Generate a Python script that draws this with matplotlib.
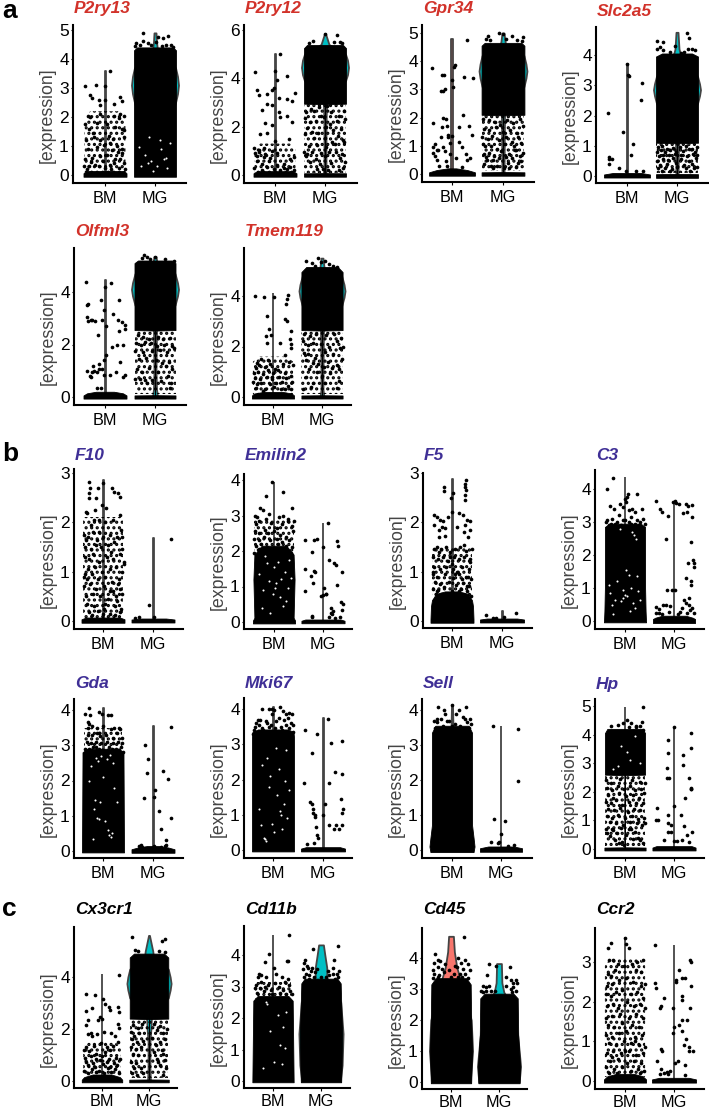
"""Violin + jitter panels, BM vs MG expression for marker genes.

Values are read off the reference by eye. Where the jitter saturates to solid
black the cloud is kept as a width profile (*_MY, *_MW); where it is merely busy
it gets a dotted band (*_HY, *_HW) under the single points.
x offsets and widths are in percent of the BM-MG spacing.
"""
import matplotlib
matplotlib.use("Agg")
import matplotlib.pyplot as plt

plt.rcParams["font.family"] = ["Liberation Sans", "DejaVu Sans"]
plt.rcParams["hatch.linewidth"] = 1.5

RED = "#d2322a"
BLUE = "#3f2f96"
BLACK = "#000000"
BM_FILL = "#f8766d"
MG_FILL = "#00bfc4"
GROUPS = ["BM", "MG"]

# --- P2ry13
P2RY13_BM_VY = [0, 3.6]
P2RY13_BM_VW = [1, 1]
P2RY13_BM_MY = [-.06, .06, .14]
P2RY13_BM_MW = [43, 43, 38]
P2RY13_BM_HY = [.1, 1.7, 2.2]
P2RY13_BM_HW = [41, 41, 30]
P2RY13_BM_X = [-40, -19, -1, 9, -30, -27, -13, 0, 30, 33, 17, -10, -35, -30, -10, 17, 29, 37, 27, -40, -33, -17, 3, 20, 33, 38, -38, -23, -10, 10, 23, 37, -35, -17, -3, 13, 33, -40, -27, -10, 3, 20, 38, -33, -13, 10, 27, -37, -20, 0, 17, 30, -25, 7, 25, 40, -5, 15, -28, -42, 34, 12]
P2RY13_BM_Y = [3.07, 3.1, 3.07, 3.57, 2.75, 2.65, 2.6, 2.6, 2.7, 2.55, 2.45, 2.4, 2.05, 2, 2.1, 2.05, 2.1, 2.05, 1.95, 1.75, 1.6, 1.8, 1.75, 1.65, 1.6, 1.55, 1.2, 1.3, 1.2, 1.1, 1, 1.3, .9, .95, 1.05, .85, .9, .55, .6, .65, .7, .55, .4, .3, .3, .35, .25, .2, .35, .25, .4, .55, 1.45, 1.35, .8, .2, .5, 1.25, .45, .3, .75, .2]
P2RY13_MG_VY = [0, 2.5, 2.8, 3.1, 3.4, 3.7, 4.3, 4.6, 4.9]
P2RY13_MG_VW = [2, 41, 45, 47, 45, 41, 5, 3, 2]
P2RY13_MG_MY = [-.06, .06, 4.3, 4.4]
P2RY13_MG_MW = [42, 42, 42, 36]
P2RY13_MG_X = [-24, 26, 6, 15, -24, -38, -14, 36, 2, -40, -30, 22, 32, 14, -8]
P2RY13_MG_Y = [4.9, 4.8, 4.75, 4.72, 4.62, 4.55, 4.55, 4.4, 4.6, 4.45, 4.5, 4.5, 4.5, 4.45, 4.5]
P2RY13_MG_GX = [-15, -8, -20, 12, -28, 22, 4, 30, -12, 10, 24, -32, -4, 18]
P2RY13_MG_GY = [.4, .5, .7, .9, .3, .6, .3, 1.1, 1.3, 1.2, .25, .95, .15, .55]

# --- P2ry12
P2RY12_BM_VY = [0, 5.02]
P2RY12_BM_VW = [1, 1]
P2RY12_BM_MY = [-.07, .07, .16]
P2RY12_BM_MW = [43, 43, 36]
P2RY12_BM_HY = [.1, 1.1, 1.3]
P2RY12_BM_HW = [41, 41, 30]
P2RY12_BM_X = [-40, -37, -33, -17, -7, -3, 0, 3, 23, 40, 7, 23, 33, -17, -7, -27, 23, 7, -20, -7, 10, 33, -30, -17, 27, 0, -43, -33, -23, -7, 3, 37, -37, -23, -10, -37, -27, 3, 17, 30, -17, -43, -3, 23, 37, -27, 10, 10, -33, 17, -13, 30, -40, -20]
P2RY12_BM_Y = [4.25, 3.5, 3.3, 3.35, 3.5, 3.6, 4.3, 3.95, 4.1, 3.4, 3.2, 3.15, 3.05, 2.95, 2.9, 2.7, 2.45, 2.6, 2.15, 2.05, 2.4, 2.2, 1.7, 1.75, 1.5, 1.4, 1.1, .95, 1.1, 1, .9, .75, .8, .75, .7, .6, .45, .4, .45, .65, .35, .3, .25, .25, .2, .2, .2, 5, 1.05, .3, .6, .35, .9, .85]
P2RY12_MG_VY = [0, 1, 2, 2.95, 3.9, 4.15, 4.45, 4.75, 5, 5.4, 5.85]
P2RY12_MG_VW = [2, 2, 2, 3, 41, 45, 47, 45, 41, 8, 1]
P2RY12_MG_MY = [-.07, .07, .08, 2.93, 2.95, 5.25, 5.38]
P2RY12_MG_MW = [42, 42, 0, 0, 42, 42, 36]
P2RY12_MG_HY = [.1, 2.95]
P2RY12_MG_HW = [42, 42]
P2RY12_MG_X = [0, 24, -24, 30, 18, 34, -32, -28, -12, 4, -38, -22, -8, 12, 28, 38, -40, -30, -18, -2, 10, 24, 40, -36, -26, -14, 2, 16, 32, -40, -22, 0, 14, 26, 36, -32, -16, 2, 20, 38, -26, -8, 8, 34, -38, -18, 22, 30, 0, -30, 12, -10, 40, -4, 36, -36, 6, 28, -42, -16]
P2RY12_MG_Y = [5.85, 5.8, 5.55, 5.5, 5.5, 5.45, 5.45, 2.75, 2.8, 2.85, 2.6, 2.65, 2.45, 2.6, 2.45, 2.65, 2.35, 2.2, 2.25, 2.4, 2.1, 2.25, 2.3, 1.95, 1.8, 1.75, 2, 1.85, 1.9, 1.7, 1.55, 1.55, 1.35, 1.6, 1.45, 1.2, 1.25, 1.15, 1.3, 1.35, .95, .9, .95, .85, .8, .65, .95, .7, .8, .55, .5, .45, .55, .25, .3, .85, .2, .2, .95, .25]

# --- Gpr34
GPR34_BM_VY = [0, 4.8]
GPR34_BM_VW = [1, 1]
GPR34_BM_MY = [-.06, .06, .14, .2]
GPR34_BM_MW = [45, 45, 30, 8]
GPR34_BM_X = [29, -39, -20, -15, 5, 3, 23, 41, 1, -21, -17, -14, 0, -17, -11, 21, -9, -7, 13, 33, -37, -33, -21, -7, 0, 20, -29, -13, -3, 40, -37, -33, -27, -20, -3, 27, -37, -25, -9, 20, 30, -11, -17, 8, 13, -30, 36]
GPR34_BM_Y = [4.75, 3.75, 3.5, 3.5, 3.85, 3.8, 3.45, 3.4, 3.1, 2.95, 2.95, 3, 3.35, 2, 1.95, 2.1, 1.7, 1.3, 1.65, 1.7, 1.8, 1.05, 1.3, 1.4, 1.35, .95, .85, .8, .7, 1.4, .95, .65, .85, 1.65, 1.1, .7, .75, .3, .3, .25, .5, .45, .95, .55, 1.15, .5, .55]
GPR34_MG_VY = [0, 2.1, 3.1, 3.4, 3.65, 3.9, 4.2, 4.55, 4.7, 5]
GPR34_MG_VW = [2, 3, 41, 45, 47, 45, 41, 6, 4, 2]
GPR34_MG_MY = [-.06, .06, .07, 2.08, 2.1, 4.55, 4.65]
GPR34_MG_MW = [42, 42, 0, 0, 42, 42, 36]
GPR34_MG_HY = [.1, 2.1]
GPR34_MG_HW = [42, 42]
GPR34_MG_X = [-30, -7, 0, 17, -26, 40, -34, 28, 5, 38, -40, -27, -16, -6, 8, 20, 33, -38, -28, -14, 0, 14, 27, 40, -42, -30, -21, -8, 6, 18, 30, -36, -24, -11, 4, 22, 36, -38, -27, -17, -3, 12, 26, 34, -32, -20, -8, 18, 30, 40, -37, -24, 10, 26, -12, 36, 2, -34, 12, 24, -20, 6, -40]
GPR34_MG_Y = [4.9, 5, 4.95, 4.9, 4.75, 4.85, 4.8, 4.75, 4.8, 4.7, 1.95, 1.9, 1.85, 1.75, 1.9, 1.8, 1.95, 1.6, 1.55, 1.65, 1.5, 1.55, 1.45, 1.7, 1.3, 1.25, 1.35, 1.2, 1.3, 1.15, 1.3, 1, 1, .9, 1.05, 1, 1.1, .7, .75, .65, .8, .7, .85, .65, .5, .5, .55, .55, .4, .75, .35, .3, .4, .25, .3, .45, .2, .6, .2, .85, .2, .6, 1.05]

# --- Slc2a5
SLC2A5_BM_VY = [0, 3.7]
SLC2A5_BM_VW = [1, 1]
SLC2A5_BM_MY = [-.05, .05, .1]
SLC2A5_BM_MW = [46, 46, 28]
SLC2A5_BM_X = [-1, 1, 3, 29, 28, -39, -37, -36, -31, -37, -8, 11, 7, -17, 17, 32, -2]
SLC2A5_BM_Y = [3.7, 3.35, 3.3, 3.08, 2.5, 2.07, .63, .55, .55, .4, 1.45, 1.05, .7, .25, .15, .15, .18]
SLC2A5_MG_VY = [0, 1.1, 2.4, 2.65, 2.85, 3.05, 3.3, 3.95, 4.2, 4.75]
SLC2A5_MG_VW = [2, 3, 41, 45, 47, 45, 41, 8, 4, 2]
SLC2A5_MG_MY = [-.06, .06, .07, 1.08, 1.1, 3.95, 4.05]
SLC2A5_MG_MW = [42, 42, 0, 0, 42, 42, 30]
SLC2A5_MG_HY = [.1, 1.1]
SLC2A5_MG_HW = [42, 42]
SLC2A5_MG_X = [-40, -28, -34, -40, 20, 24, -4, 22, 30, 36, -28, -14, 14, 8, -38, -30, -20, -8, 6, 18, 30, 40, -40, -32, -24, -14, -2, 12, 24, 36, -36, -28, -16, -4, 8, 20, 32, 40, -40, -28, -18, -8, 8, 24, 38, -34, -20, -2, 14, 30, -38, -24, -10, 18, 34, 0, -30, 40, 26, -14]
SLC2A5_MG_Y = [4.45, 4.43, 4.25, 4.2, 4.72, 4.55, 4.3, 4.2, 4.2, 4.15, 4.15, 4.1, 4.1, 4.05, .95, .98, .9, .92, .95, .98, .9, .95, .8, .85, .8, .85, .78, .82, .88, .8, .65, .7, .68, .72, .7, .66, .72, .7, .5, .55, .52, .58, .55, .5, .58, .38, .4, .42, .38, .4, .25, .28, .22, .26, .25, .3, .15, .3, .15, .18]

# --- Olfml3
OLFML3_BM_VY = [0, 4.45]
OLFML3_BM_VW = [1, 1]
OLFML3_BM_MY = [-.06, .06, .14, .2]
OLFML3_BM_MW = [43, 43, 36, 18]
OLFML3_BM_X = [-39, -37, -9, -1, 12, 27, -35, -3, -7, -29, -37, -35, -27, -21, 1, 15, 25, 33, 39, 39, -15, 27, 13, 23, 35, -13, -25, -3, 1, 29, -23, -31, -37, -17, -13, -7, 9, 21, 35, -29, -3, -27, -9, 39, -17]
OLFML3_BM_Y = [4.4, 3.5, 3.7, 4.2, 4.35, 3.7, 3.55, 3.3, 2.95, 2.95, 3.05, 2.9, 2.95, 2.9, 2.7, 3.15, 2.95, 2.85, 2.75, 2.6, 2.35, 2.5, 1.9, 2, 2, 1.25, 1.2, 1.4, 1.6, 1.35, 1, .8, 1, .95, 1.05, 1.05, .85, .95, .75, .75, .85, .95, .35, .85, .35]
OLFML3_MG_VY = [0, .3, 1, 2.55, 3.5, 3.85, 4.1, 4.35, 4.7, 5.1, 5.35]
OLFML3_MG_VW = [5, 3, 2, 3, 40, 45, 47, 45, 40, 4, 2]
OLFML3_MG_MY = [-.06, .06, .07, 2.53, 2.55, 5.1, 5.2]
OLFML3_MG_MW = [41, 41, 0, 0, 41, 41, 34]
OLFML3_MG_HY = [.1, 2.55]
OLFML3_MG_HW = [41, 41]
OLFML3_MG_X = [-22, -17, -26, 0, 20, -10, 38, -34, -24, -12, 6, 16, 30, -38, -28, -20, -8, 4, 18, 34, -40, -24, -6, 10, 24, 38, -32, -18, 2, 14, 28, -36, -26, -12, 22, 34, -40, -30, -20, 6, 32, 12, -16, 30, -6, 26]
OLFML3_MG_Y = [5.4, 5.35, 5.3, 5.35, 5.25, 5.25, 5.2, 2.35, 2.3, 2.2, 2.3, 2.2, 2.25, 2.05, 2, 2.1, 2.05, 1.95, 2, 1.95, 1.75, 1.7, 1.75, 1.8, 1.7, 1.85, 1.45, 1.5, 1.4, 1.3, 1.35, 1.05, .95, 1.1, 1.2, 1.05, .7, .7, .65, .95, .55, .6, .55, .35, .65, .8]

# --- Tmem119
TMEM119_BM_VY = [0, 4.1]
TMEM119_BM_VW = [1, 1]
TMEM119_BM_MY = [-.06, .06, .14, .2]
TMEM119_BM_MW = [43, 43, 38, 20]
TMEM119_BM_HY = [.1, 1.4, 1.6]
TMEM119_BM_HW = [41, 41, 28]
TMEM119_BM_X = [-37, -19, 3, 27, 31, 29, -13, 25, 29, 37, -9, 35, -5, -15, 15, 37, 37, 25, -13, -33, -24, -11, -35, -28, -17, -7, 4, 20, 33, 40, -39, -30, -21, -10, 0, 11, 24, 36, -37, -27, -13, -3, 12, 26, 38, -33, -24, -7, 6, 18, 30, -35, -16, 2, 24, -2, 37, -40, 16, -21]
TMEM119_BM_Y = [4, 3.95, 3.95, 3.7, 4.05, 3.9, 3.2, 3.1, 3, 2.6, 2.7, 2.3, 2.45, 2.4, 2.15, 2.1, 1.95, 1.65, 2.15, 1.35, 1.5, 1.45, 1.15, 1.25, 1.2, 1.3, 1.1, 1.3, 1.4, 1.25, .95, 1, .9, 1.05, .95, 1.05, .95, .85, .75, .7, .8, .7, .8, .75, .6, .5, .55, .5, .55, .6, .45, .35, .3, .4, .3, .8, .3, .6, .3, .25]
TMEM119_MG_VY = [0, .3, 1, 2.65, 3.6, 3.95, 4.2, 4.45, 4.8, 5, 5.5]
TMEM119_MG_VW = [4, 2, 2, 3, 40, 45, 47, 45, 40, 5, 2]
TMEM119_MG_MY = [-.06, .06, .07, 2.63, 2.65, 4.95, 5.15]
TMEM119_MG_MW = [42, 42, 0, 0, 42, 42, 32]
TMEM119_MG_HY = [.1, 2.65]
TMEM119_MG_HW = [42, 42]
TMEM119_MG_X = [-32, -8, -2, 6, -20, 14, 22, -14, 30, -36, -24, -12, 8, 24, 38, -38, -28, -18, -2, 14, 30, 42, -36, -28, -14, 6, 22, 36, -32, -18, -8, 12, 30, 40, -26, -10, 4, 20, 34, -32, 0, 16, -18, 34, -22, 6, 30, -38]
TMEM119_MG_Y = [5.4, 5.5, 5.35, 5.4, 5.3, 5.25, 5.2, 5.2, 5.15, 2.5, 2.4, 2.5, 2.45, 2.5, 2.35, 2.2, 2.05, 2.15, 2.1, 2, 2.2, 2, 1.75, 1.7, 1.55, 1.8, 1.7, 1.95, 1.45, 1.35, 1.3, 1.4, 1.25, 1.5, 1.1, 1, 1.2, 1.15, 1.1, .8, .85, .95, .55, .65, .4, .55, .35, .3]

# --- F10
F10_BM_VY = [0, 2.85]
F10_BM_VW = [1, 1]
F10_BM_MY = [-.035, .035, .07]
F10_BM_MW = [43, 43, 34]
F10_BM_HY = [.05, 2.1]
F10_BM_HW = [40, 40]
F10_BM_X = [-28, -1, -27, -11, -29, 17, 21, 29, 33, -29, -15, -3, -35, -33, -19, -9, 3, 19, 33, -39, -31, -21, -13, 0, 13, 27, 35, -37, -25, -15, -5, 9, 21, 37, -37, -29, -21, -9, 7, 19, 33, 41, -31, -17, -3, 13, 25, 37, -39, -33, -23, -11, 3, 17, 31, -39, -27, -15, 1, 13, 29, -35, -21, -7, 9, 25, 37, -33, -19, 3, 23, 35, -29, -11, 13, 33, -23, 1, 23, -35, 37, -17, 5, 41, -25, 15, 33, -9, 27, -37, -1, 19]
F10_BM_Y = [2.82, 2.8, 2.7, 2.7, 2.6, 2.7, 2.62, 2.6, 2.52, 2.5, 2.5, 2.35, 2.2, 2.18, 2.05, 2.05, 2, 2.05, 2.15, 1.75, 1.7, 1.8, 1.65, 1.7, 1.75, 1.7, 1.85, 1.5, 1.45, 1.55, 1.5, 1.55, 1.6, 1.45, 1.3, 1.25, 1.35, 1.2, 1.3, 1.25, 1.35, 1.2, 1.05, 1.1, 1, 1.05, 1.1, 1, .9, .85, .95, .85, .9, .8, .85, .7, .75, .65, .7, .6, .75, .5, .55, .5, .45, .5, .55, .35, .3, .35, .3, .25, .18, .2, .15, .18, .12, .25, .12, 1.65, 1.7, 2.25, 2.3, 1.15, 1.95, 1.4, .65, 1.8, .4, .95, .15, .6]
F10_MG_VY = [0, 1.68]
F10_MG_VW = [1, 1]
F10_MG_MY = [-.03, .03, .05]
F10_MG_MW = [43, 43, 26]
F10_MG_X = [36, -9, -36, -28, 2]
F10_MG_Y = [1.67, .32, .07, .08, .08]

# --- Emilin2
EMILIN2_BM_VY = [0, 3.95]
EMILIN2_BM_VW = [1, 1]
EMILIN2_BM_MY = [-.04, .04, .12, 1.2, 1.9, 2.15]
EMILIN2_BM_MW = [43, 43, 40, 42, 40, 25]
EMILIN2_BM_HY = [1.9, 2.9]
EMILIN2_BM_HW = [40, 40]
EMILIN2_BM_X = [-5, 19, -16, -38, -35, -28, -22, -10, 10, 19, 28, 37, 40, -36, -30, -17, -6, 6, 17, 28, 37, -38, -30, -19, -12, 1, 13, 25, 38, -40, -31, -21, -8, 7, 16, 30, -36, -26, -14, 9, 24, 36, -40, -30, 3, 15, 34, -22]
EMILIN2_BM_Y = [3.95, 3.65, 3.55, 3, 2.95, 3.2, 3.15, 3.05, 2.95, 3, 2.9, 3.2, 2.85, 2.75, 2.85, 2.9, 2.8, 2.65, 2.75, 2.85, 2.7, 2.55, 2.5, 2.6, 2.5, 2.55, 2.45, 2.4, 2.55, 2.35, 2.3, 2.4, 2.3, 2.35, 2.25, 2.3, 2.15, 2.2, 2.1, 2.2, 2.15, 2.1, 1.95, 2.05, 2, 2.05, 1.95, 2]
EMILIN2_BM_GX = [-10, 5, 15, -22, 28, -3, 12, -30, 22, 0, -15, 8, 30, -25, 18, -8, 25, -18, 2, 35]
EMILIN2_BM_GY = [1.15, 1.1, 1.2, .9, .95, .8, .7, 1.35, 1.4, 1.55, 1.65, 1.7, 1.75, .4, .45, .25, .6, 1.85, .95, 1.25]
EMILIN2_MG_VY = [0, 2.8]
EMILIN2_MG_VW = [1, 1]
EMILIN2_MG_MY = [-.035, .035, .07]
EMILIN2_MG_MW = [44, 44, 36]
EMILIN2_MG_X = [11, -37, -19, -12, -23, 28, -25, -18, 1, 7, 31, 13, -37, -16, -20, -4, -1, 7, -22, 28, 17, -36, 20, 16, 40, 38, 37, 27, 23, 38, 3, -22, 19, 25, 12, 35]
EMILIN2_MG_Y = [2.78, 2.3, 2.3, 2.33, 1.97, 2.28, 1.3, 1.45, 2.1, .8, 2.15, 1.75, 1.5, 1.4, 1.1, .72, .75, .8, .15, 1.05, .4, .87, .3, .25, .5, .35, .55, 1.6, 1.65, 1.4, .95, .18, .22, .12, .15, .15]

# --- F5
F5_BM_VY = [0, 2.88]
F5_BM_VW = [1, 1]
F5_BM_MY = [-.035, .035, .3, .42, .55, .6]
F5_BM_MW = [43, 43, 42, 40, 32, 14]
F5_BM_HY = [.5, 1.5]
F5_BM_HW = [40, 40]
F5_BM_X = [28, 26, 25, 27, 26, -17, -17, 2, -3, 26, -37, -30, -24, -18, -9, -1, 13, 21, 30, 36, -36, -26, -21, -15, 9, 25, 36, -26, -14, 24, 32, -36, -30, -22, -12, -4, 6, 16, 28, 40, -38, -28, -18, -8, 4, 14, 24, 36, -36, -24, -12, 0, 10, 20, 34, -38, -30, -14, 2, 14, 28, 38, -34, -24, -6, 8, 22, 34, -38, -28, -16, 0, 18, 30, -32, -22, -6, 12, 26, 38, -36, -10, 8, 20, 30, -26, 2, 36, -18, 24, -38, 14, -4, 32, -30, 6]
F5_BM_Y = [2.85, 2.78, 2.72, 2.66, 2.45, 2.72, 2.64, 2.6, 2.5, 2.55, 2.15, 2.1, 2.05, 2.02, 2.1, 2.2, 2.18, 2.15, 2.05, 2.02, 1.95, 1.85, 1.9, 1.88, 1.9, 1.95, 1.85, 1.7, 1.72, 1.8, 1.7, 1.45, 1.5, 1.45, 1.5, 1.4, 1.45, 1.5, 1.42, 1.45, 1.3, 1.25, 1.3, 1.22, 1.3, 1.25, 1.3, 1.2, 1.1, 1.05, 1.1, 1.15, 1, 1.1, 1.05, .95, .9, .95, .88, .95, .9, .85, .8, .75, .8, .72, .78, .7, .65, .62, .68, .6, .65, .6, .55, .5, .55, .48, .52, .5, .42, .4, .42, .85, .7, 1.4, 1.05, 1.25, .35, 1.55, 1, .6, 1.3, .9, .6, .95]
F5_MG_VY = [0, .2]
F5_MG_VW = [1, 1]
F5_MG_MY = [-.03, .03, .05]
F5_MG_MW = [44, 44, 30]
F5_MG_X = [-32, 27, -12, -18, 4]
F5_MG_Y = [.12, .17, .07, .06, .09]

# --- C3
C3_BM_VY = [0, 4.35]
C3_BM_VW = [1, 1]
C3_BM_MY = [-.04, .3, 1.0, 1.3, 2.85, 2.95]
C3_BM_MW = [43, 42, 41, 41, 41, 32]
C3_BM_X = [-25, -37, 7, 5, 25, -1, 2, -5, -30, -22, -11, 8, 14, 20, 35, -36, -26, -13, 1, 12, 25, 36, -38, -29, -16, -4, 8, 20, 30, 40, -32, -20, -8, 12, 28]
C3_BM_Y = [4.32, 4, 3.85, 3.75, 3.85, 3.7, 3.6, 3.45, 3.5, 3.4, 3.55, 3.35, 3.4, 3.3, 3.4, 3.05, 3.1, 3.2, 3.05, 3.15, 3.05, 3.1, 3.0, 2.95, 3.0, 3.05, 3, 2.95, 3, 2.95, 2.9, 2.95, 2.9, 2.95, 2.9]
C3_BM_GX = [-4, 0, 4, -8, 16, 20, -24, 12, -16, 24, -30, 8, 30, -20, 2, 14, 18, -10, -32, 26, 10, -5, 22, -26]
C3_BM_GY = [.7, .8, .75, .6, .55, .4, .2, 1, 1.2, 1.35, .85, 1.4, .65, .65, 1.55, 2.7, 2.6, 2.8, 1.1, .9, .3, .95, 2.5, .5]
C3_MG_VY = [0, 3.65]
C3_MG_VW = [1, 1]
C3_MG_MY = [-.06, .06, .1, .16]
C3_MG_MW = [43, 43, 38, 24]
C3_MG_X = [-37, -28, -24, 3, -2, 5, 10, 25, 36, 29, 26, 18, 36, -12, -16, 35, 40, 38, 40, 29, 25, 34, -4, -15, 3, 35, 21, 30, -36, -30, -23, -17, -9, -30, -36, -10, 16, 30, 24, 36, 13, 32, 8, -24, 26, 40]
C3_MG_Y = [3.63, 3.4, 3.3, 3.63, 3.6, 3.58, 3.55, 3.55, 3.53, 3.5, 3.3, 3.28, 3.15, 3.18, 2.47, 2.38, 1.75, 1.85, 1.65, 1.75, 1.3, 1.2, .95, .95, .93, 1.1, .65, .7, .42, .35, .5, .48, .45, .25, .25, .28, .38, .5, .55, .4, .28, .32, .2, .22, .25, .25]

# --- Gda
GDA_BM_VY = [0, 4.05]
GDA_BM_VW = [1, 1]
GDA_BM_MY = [-.04, 2.6, 2.8, 2.9]
GDA_BM_MW = [42, 41, 41, 32]
GDA_BM_HY = [2.85, 3.5]
GDA_BM_HW = [38, 38]
GDA_BM_X = [-28, -37, -27, -30, -9, -3, 9, 15, -29, -30, -23, -12, -8, 0, 15, 21, 31, 34, -30, -22, -13, -6, 6, 19, 27, 37, -33, -24, -15, -5, 8, 20, 30, 38, -36, -20, -8, 12, 25, 35, -32, -28, -14, 3, 18, 40]
GDA_BM_Y = [4.05, 3.9, 3.85, 3.65, 3.95, 3.9, 3.85, 3.85, 3.6, 3.5, 3.55, 3.5, 3.35, 3.55, 3.45, 3.5, 3.5, 3.45, 3.3, 3.3, 3.35, 3.25, 3.3, 3.2, 3.35, 3.2, 3.1, 3.05, 3.1, 3.05, 3.1, 3.05, 3.1, 3.05, 2.9, 2.95, 2.9, 2.95, 2.9, 2.95, 2.85, 2.9, 2.95, 2.85, 2.9, 2.8]
GDA_BM_GX = [-14, -10, -5, 8, 14, 20, -24, -16, -7, -12, -8, 12, 15, 18, -20, 4, 27, -28, 0, 22, -18, 10]
GDA_BM_GY = [2.65, 2.55, 2.7, 2.6, 2.72, 2.5, 2.4, 1.45, 1.4, .95, .9, .45, .4, .5, .35, .85, 1.4, 2, 2.1, 1.8, 1.2, .6]
GDA_MG_VY = [0, 3.55]
GDA_MG_VW = [1, 1]
GDA_MG_MY = [-.05, .05, .1, .14]
GDA_MG_MW = [43, 43, 30, 12]
GDA_MG_X = [35, -16, -11, -13, 20, 30, 3, -18, 1, 12, 36, 15, 26, 25, -28, -24, -22, 2, 15, 24]
GDA_MG_Y = [3.53, 3, 2.62, 2.2, 2.28, 2.05, 1.72, 1.5, 1.52, 1.13, .93, .63, .3, .18, .15, .16, .12, .14, .12, .15]

# --- Mki67
MKI67_BM_VY = [0, 4.05]
MKI67_BM_VW = [1, 1]
MKI67_BM_MY = [-.04, 3.2, 3.35, 3.42]
MKI67_BM_MW = [42, 42, 41, 30]
MKI67_BM_X = [-22, -3, 1, 14, -9, 19, 25, 38, 32, -35, -30, -27, -15, -3, 12, 22, 30, 39, -36, -28, -22, -13, -5, 6, 15, 26, 36, -38, -31, -20, -8, 3, 18, 31, 40, -40]
MKI67_BM_Y = [4, 4, 3.98, 4.05, 4, 3.95, 3.85, 3.85, 3.9, 3.6, 3.7, 3.7, 3.65, 3.85, 3.75, 3.7, 3.75, 3.55, 3.5, 3.55, 3.45, 3.6, 3.55, 3.65, 3.5, 3.55, 3.6, 3.4, 3.35, 3.4, 3.5, 3.45, 3.4, 3.45, 3.35, 3.3]
MKI67_BM_GX = [-18, -16, -14, 14, 16, -6, 8, 22, -28, 32, -22, 2, 18, 26, -12, 6, 28, -2, 12, -24, -8, 24]
MKI67_BM_GY = [.35, .3, .25, 1.1, 1, 2.1, 1.55, 1.3, 1.15, 1.7, 2.4, .5, .6, 2.85, 2.6, 2.9, .9, .75, 2.3, .7, 1.8, 1.95]
MKI67_MG_VY = [0, 3.75]
MKI67_MG_VW = [1, 1]
MKI67_MG_MY = [-.04, .04, .08]
MKI67_MG_MW = [44, 44, 34]
MKI67_MG_X = [9, -36, 38, -13, 15, -23, 24, -39, 12, 38, 35, -26, -22, -20, 0, 4, -21, -16, -17, -15, 40, 37, 38, 12, 22, 26, 32, -12, -10, -18, -33]
MKI67_MG_Y = [3.72, 3.4, 3.1, 3.3, 3.03, 2.75, 2.2, 1.9, 1.9, 2.15, 1.45, 1.35, 1.3, 1.15, 1, 1.3, 1.05, 1, .95, .65, 1.15, 1.05, .7, .7, .6, .7, .6, .42, .35, .2, .18]

# --- Sell
SELL_BM_VY = [0, 3.3, 3.5, 4.15]
SELL_BM_VW = [42, 2, 2, 1]
SELL_BM_MY = [-.06, .1, .35, .7, 3.35, 3.55]
SELL_BM_MW = [44, 46, 44, 41, 41, 34]
SELL_BM_X = [-28, -16, 0, 15, 28, -31, -14, -11, 9, 22, 26, 36, -36, -30, -22, -18, -6, 6, 16, 30, 38, -34, -24, -14, 0, 10, 21, 34]
SELL_BM_Y = [4.1, 4, 4.15, 4, 4.1, 3.75, 3.9, 3.7, 3.9, 3.8, 3.75, 3.75, 3.7, 3.65, 3.75, 3.55, 3.7, 3.6, 3.55, 3.65, 3.6, 3.5, 3.45, 3.5, 3.55, 3.45, 3.45, 3.5]
SELL_MG_VY = [0, 3.55]
SELL_MG_VW = [1, 1]
SELL_MG_MY = [-.05, .05, .1]
SELL_MG_MW = [43, 43, 26]
SELL_MG_X = [-17, 35, 35, -14, 9, -1, -4, -21, 26, -7, 14]
SELL_MG_Y = [3.55, 3.45, 1.97, .9, .82, .45, .22, .22, .15, .2, .12]

# --- Hp
HP_BM_VY = [0, 4.98]
HP_BM_VW = [1, 1]
HP_BM_MY = [-.05, .05, .06, 2.58, 2.6, 4.05, 4.2]
HP_BM_MW = [42, 42, 0, 0, 41, 41, 36]
HP_BM_HY = [.1, 2.6]
HP_BM_HW = [41, 41]
HP_BM_X = [37, 4, 13, 23, 34, -29, -15, -5, 8, 22, 30, 36, -38, -28, -10, 14, 30, 40, -36, -26, -14, -2, 10, 20, 32, -34, -24, -12, 2, 16, 28, 38, -38, -28, -18, -6, 8, 22, 36, -34, -22, -10, 6, 18, 30, -36, -26, -14, 0, 14, 26, 38, -30, -18, -4, 10, 24, 34, -38, -24, -8, 12, 20, 40, -30, -16, 2, 30, -20, 16, -6, -36, 26, -12, 36, 8, -26, -2]
HP_BM_Y = [4.95, 4.5, 4.4, 4.3, 4.45, 4.3, 4.35, 4.4, 4.25, 4.25, 4.3, 4.15, 2.4, 2.3, 2.45, 2.4, 2.35, 2.3, 2.15, 2.05, 2.2, 2.1, 2.2, 2.05, 2.1, 1.9, 1.8, 1.95, 1.85, 1.9, 1.8, 1.95, 1.65, 1.6, 1.7, 1.55, 1.65, 1.6, 1.6, 1.4, 1.35, 1.45, 1.3, 1.4, 1.35, 1.15, 1.1, 1.2, 1.1, 1.15, 1.05, 1.1, .95, .9, .85, .95, .9, .85, .7, .65, .75, .7, .6, .9, .45, .55, .5, .3, .3, .35, .25, .55, .4, .2, .2, .7, .7, .15]
HP_BM_GX = [-15, 10, 20, -25, 5, 30, -8]
HP_BM_GY = [2.9, 3.1, 3.95, 2.8, 3.4, 3, 3.6]
HP_MG_VY = [0, 4.28]
HP_MG_VW = [1, 1]
HP_MG_MY = [-.05, .05, .1]
HP_MG_MW = [44, 44, 36]
HP_MG_X = [-1, -13, 35, -13, 34, 18, -14, 19, 34, -14, -10, 30, 34, -35, -1, 15, 22, 34, -37, -33, -13, -7, -12, 21, -6, -13, 26, 36, 0, 7, 16, -20, 30]
HP_MG_Y = [4.28, 3.8, 4.05, 3.35, 3.53, 3.3, 2.83, 2.95, 2.12, 2.5, 2.5, 2.5, 2.1, 1.45, 1.5, 1.2, 1.78, 2.1, 1, 1, 1.2, .85, .9, .82, .6, .6, .5, .6, .27, .28, .3, .32, .25]

# --- Cx3cr1
CX3CR1_BM_VY = [0, 4.1]
CX3CR1_BM_VW = [1, 1]
CX3CR1_BM_MY = [-.05, .05, .15, .25]
CX3CR1_BM_MW = [43, 43, 38, 20]
CX3CR1_BM_HY = [.2, 1.3, 1.5]
CX3CR1_BM_HW = [40, 40, 28]
CX3CR1_BM_X = [37, -33, -15, 3, 7, -35, -21, 15, 33, 36, -29, -4, 18, 0, -8, -33, -24, 33, 36, -29, -22, -10, 4, 20, 28, -33, -18, -2, 10, 24, 34, -38, -27, -12, 6, 18, -36, -24, -12, 0, 14, 30, -34, -20, -4, 10, 26, 38, -30, -14, 2, 18, 32, -38, -22, -6, 12, 28, -30, -12, 4, 20, 36]
CX3CR1_BM_Y = [4.07, 3.35, 3.3, 3.15, 2.95, 2.7, 2.8, 2.85, 2.85, 2.65, 2.35, 2.45, 2.75, 2.4, 2.35, 2.15, 1.85, 2.2, 2.05, 1.8, 1.75, 1.8, 1.9, 1.85, 1.75, 1.3, 1.35, 1.45, 1.3, 1.35, 1.5, 1.2, 1.15, 1.05, 1.1, 1.2, .9, .95, .85, .95, .85, .9, .75, .7, .8, .75, .7, .85, .6, .55, .65, .55, .6, .4, .45, .4, .5, .45, .3, .35, .3, .35, .3]
CX3CR1_MG_VY = [0, .5, 1.5, 2, 2.4, 3.2, 3.5, 3.75, 4, 4.3, 4.85, 5, 5.6]
CX3CR1_MG_VW = [3, 2, 2, 4, 5, 41, 45, 47, 45, 41, 9, 8, 1]
CX3CR1_MG_MY = [-.05, .05, .06, 2.38, 2.4, 4.75, 4.9]
CX3CR1_MG_MW = [42, 42, 0, 0, 41, 41, 32]
CX3CR1_MG_HY = [.1, 2.4]
CX3CR1_MG_HW = [41, 41]
CX3CR1_MG_X = [-37, 28, 33, -30, -24, 22, 34, -34, -24, -14, 10, 24, -38, -32, -22, 18, 30, 38, -36, -26, -12, 6, 24, 34, -38, -28, -18, 14, 28, -34, -24, 10, 30, -38, -28, 16, 34, -32, -18, 24, -26, 36, -12, 30, 20, -36]
CX3CR1_MG_Y = [5.55, 5.4, 5.45, 5.05, 5, 5, 4.95, 2.15, 2.05, 2.2, 2.2, 2.1, 1.9, 1.75, 1.85, 1.95, 1.85, 2, 1.6, 1.5, 1.55, 1.65, 1.5, 1.6, 1.3, 1.25, 1.3, 1.4, 1.2, 1.05, 1, 1.1, 1.05, .75, .7, .85, .8, .5, .5, .6, .25, .5, .3, .25, .75, .3]

# --- Cd11b
CD11B_BM_VY = [0, 4.62]
CD11B_BM_VW = [1, 1]
CD11B_BM_MY = [-.04, 2.55, 2.7]
CD11B_BM_MW = [43, 41, 32]
CD11B_BM_HY = [2.6, 3.15]
CD11B_BM_HW = [38, 38]
CD11B_BM_X = [33, -8, 31, -17, 30, -29, 3, -31, -26, -14, 6, 18, 32, -36, -24, -10, 4, 24, 34, -38, -28, -16, -4, 12, 20, 36, -34, -18, -2, 14, 28, 40]
CD11B_BM_Y = [4.62, 4.02, 3.8, 3.78, 3.8, 3.4, 3.6, 3.3, 3.35, 3.3, 3.4, 3.3, 3.25, 3.05, 3.15, 3.05, 3.1, 3.15, 3.05, 2.95, 2.95, 3, 2.9, 3, 2.9, 2.85, 2.8, 2.85, 2.75, 2.8, 2.75, 2.75]
CD11B_BM_GX = [-14, -12, 10, 20, 26, -6, 14, 18, -20, 2, 28]
CD11B_BM_GY = [2.5, 2.45, 2.1, 1.7, 1.05, 1.6, 1.15, .55, .4, .6, 2.2]
CD11B_MG_VY = [0, .5, 1.5, 2.5, 3, 3.3, 3.6, 4, 4.32]
CD11B_MG_VW = [40, 44, 46, 41, 18, 12, 12, 8, 5]
CD11B_MG_MY = [-.04, .5, 1.5, 2.5, 3.1, 3.25]
CD11B_MG_MW = [42, 43, 44, 42, 41, 34]
CD11B_MG_X = [35, -16, 28, -34, -35, -28, -18, -8, 14, 26, 38, -37, -30, -20, -12, 24, 34, -32, -24, 0, 16, 36, -36, -26, -14, 10, 30]
CD11B_MG_Y = [4.3, 4.2, 3.85, 3.85, 3.75, 3.6, 3.6, 3.55, 3.5, 3.6, 3.5, 3.55, 3.65, 3.5, 3.45, 3.4, 3.4, 3.4, 3.35, 3.3, 3.35, 3.3, 3.3, 3.25, 3.3, 3.3, 3.25]

# --- Cd45
CD45_BM_VY = [0, 1, 2, 3, 3.7, 4.2, 4.7]
CD45_BM_VW = [40, 45, 42, 25, 12, 7, 5]
CD45_BM_MY = [-.04, .5, 1, 2, 3.15, 3.35]
CD45_BM_MW = [42, 43, 44, 42, 41, 32]
CD45_BM_X = [27, -34, -27, 30, 15, -35, -22, -12, 8, 20, 36, -38, -28, -18, -4, 12, 24, 40, -36, -24, -14, 6, 18, 30, -38, -28, 0, 22, 36, 14]
CD45_BM_Y = [4.67, 4.12, 3.95, 3.95, 4, 3.85, 3.9, 3.8, 3.75, 3.85, 3.8, 3.6, 3.7, 3.65, 3.6, 3.7, 3.65, 3.6, 3.5, 3.45, 3.55, 3.5, 3.5, 3.5, 3.35, 3.4, 3.4, 3.4, 3.35, 3.4]
CD45_MG_VY = [0, .5, 1.5, 2.5, 2.9, 3.2, 3.82]
CD45_MG_VW = [42, 45, 39, 25, 10, 6, 5]
CD45_MG_MY = [-.04, .5, 1.5, 2.7, 2.85]
CD45_MG_MW = [43, 44, 40, 39, 30]
CD45_MG_X = [-20, -24, 22, -6, 14, 26, 30, 36, -34, 38, -38, -28, -20, 14, 30, -34, -28, 24, 36, -16, 28, -8]
CD45_MG_Y = [3.8, 3.45, 3.7, 3.75, 3.4, 3.3, 3.2, 3.3, 3.1, 3.2, 2.95, 3.05, 3.1, 3.1, 3.05, 2.9, 2.95, 3, 2.95, 2.95, 2.9, 2.95]

# --- Ccr2
CCR2_BM_VY = [0, 3.62]
CCR2_BM_VW = [1, 1]
CCR2_BM_MY = [-.04, .04, .12, .18]
CCR2_BM_MW = [43, 43, 36, 18]
CCR2_BM_HY = [.1, 2.9, 3.1]
CCR2_BM_HW = [41, 41, 30]
CCR2_BM_X = [0, -29, -35, 2, 9, -33, -25, -15, 15, 24, 37, -35, -28, -20, -2, 22, 33, -36, -26, -12, 3, 16, 33, 40, -38, -28, -18, -7, 12, 24, 37, -36, -24, -14, 4, 18, 30, 40, -38, -26, -10, 8, 22, 36, -34, -22, -6, 14, 28, -38, -26, -12, 2, 20, 34, -32, -18, -2, 12, 28, 40, -36, -24, -8, 8, 22, 36, -30, -14, 4, 18, 32, -38, -22, -6, 26, 38, -32, 12, -16, 30, 0, -26, 20]
CCR2_BM_Y = [3.6, 3.48, 3.35, 3.45, 3.35, 3.05, 3.05, 2.95, 2.95, 3, 3.05, 2.7, 2.65, 2.8, 2.9, 2.8, 2.75, 2.4, 2.45, 2.55, 2.6, 2.5, 2.4, 2.45, 2.2, 2.15, 2.25, 2.3, 2.2, 2.25, 2.1, 1.9, 1.95, 1.85, 2, 1.9, 1.95, 1.85, 1.6, 1.65, 1.7, 1.6, 1.7, 1.6, 1.4, 1.35, 1.45, 1.4, 1.35, 1.15, 1.1, 1.2, 1.25, 1.1, 1.15, .95, .9, 1, .95, .9, .85, .7, .75, .7, .75, .65, .7, .5, .55, .45, .5, .45, .35, .3, .35, .3, .25, .2, .25, .2, .2, .75, .6, 1]
CCR2_MG_VY = [0, 3.42]
CCR2_MG_VW = [1, 1]
CCR2_MG_MY = [-.04, .04, .08]
CCR2_MG_MW = [45, 45, 30]
CCR2_MG_X = [-39, 32, 35, -39, -37, 5, 10, 16, -21, 16, -28, -27, 4, 16, -26, -2, 23, 34, 16, 27, 0, -25, -3, 33, 16, 10, 24, 20, 38, 31, -34, -26, 2, 22, 31, -15, -28, -13, -8, 8, 22, -20]
CCR2_MG_Y = [3.42, 3.05, 3, 2.48, 2.35, 2.55, 2.8, 2.6, 2.1, 2.15, 1.85, 1.9, 2.5, 2.05, .8, 1.85, 2.6, 2.4, 1.55, 1.55, 1.35, .75, 1.2, 1.85, 1.25, 1.4, 1.05, .9, .75, .85, .5, .3, .45, .4, .75, .22, .18, .18, .25, .5, .15, .2]

TITLES = ["P2ry13", "P2ry12", "Gpr34", "Slc2a5", "Olfml3", "Tmem119", "F10", "Emilin2", "F5", "C3", "Gda", "Mki67", "Sell", "Hp", "Cx3cr1", "Cd11b", "Cd45", "Ccr2"]
TITLE_COLOURS = [RED] * 6 + [BLUE] * 8 + [BLACK] * 4
YTICKS = [range(6), [0, 2, 4, 6], range(6), range(5), [0, 2, 4], [0, 2, 4], range(4), range(5), range(4), range(5), range(5), range(5), range(5), range(6), [0, 2, 4], range(5), range(5), range(4)]
PREFIXES = ["P2RY13", "P2RY12", "GPR34", "SLC2A5", "OLFML3", "TMEM119", "F10", "EMILIN2", "F5", "C3", "GDA", "MKI67", "SELL", "HP", "CX3CR1", "CD11B", "CD45", "CCR2"]

# pixel layout: left, right, top, bottom, y of 0, tick value, y of that tick, x of BM, x of MG
BOXES = [
    (73, 186, 25, 183, 175, 5, 30, 105, 155), (244, 357, 25, 183, 175, 6, 30, 275, 325),
    (422, 534, 25, 182, 174, 5, 33, 452, 503), (596, 708, 27, 183, 176, 4, 55, 627, 677),
    (74, 186, 248, 405, 397, 4, 292, 105, 155), (244, 351, 248, 405, 397, 4, 296, 273, 322),
    (74, 183, 469, 629, 621, 3, 473, 103, 153), (244, 352, 474, 629, 622, 4, 480, 274, 323),
    (423, 532, 473, 628, 621, 3, 473, 452, 502), (595, 704, 470, 629, 621, 4, 489, 625, 674),
    (74, 183, 699, 858, 851, 4, 710, 103, 153), (244, 352, 698, 858, 850, 4, 709, 273, 323),
    (422, 532, 699, 858, 850, 4, 710, 452, 501), (595, 704, 699, 858, 849, 5, 706, 625, 674),
    (74, 177, 927, 1088, 1081, 4, 977, 102, 149), (244, 350, 926, 1088, 1081, 4, 955, 273, 321),
    (422, 527, 928, 1089, 1082, 4, 958, 451, 499), (595, 704, 928, 1089, 1081, 3, 962, 625, 674),
]
TITLE_Y = [8, 8, 8, 11, 232, 232, 455, 455, 455, 455, 684, 684, 684, 684, 910, 910, 910, 910]
W, H = 709, 1109


def draw_group(ax, pos, name, fill):
    ns = globals()
    vy, vw = ns[name + "_VY"], ns[name + "_VW"]
    my, mw = ns[name + "_MY"], ns[name + "_MW"]
    ax.fill_betweenx(vy, [pos - w / 100 for w in vw], [pos + w / 100 for w in vw],
                     facecolor=fill, edgecolor="#444444", lw=1.3, zorder=2, clip_on=False)
    if name + "_HY" in ns:
        hw = ns[name + "_HW"]
        ax.fill_betweenx(ns[name + "_HY"], [pos - w / 100 for w in hw], [pos + w / 100 for w in hw],
                         facecolor="none", edgecolor="black", lw=0, hatch="...", zorder=2.5)
    ax.fill_betweenx(my, [pos - w / 100 for w in mw], [pos + w / 100 for w in mw],
                     facecolor="black", edgecolor="black", lw=0.6, zorder=3, clip_on=False)
    ax.scatter([pos + x / 100 for x in ns[name + "_X"]], ns[name + "_Y"], s=7, c="black",
               linewidths=0, zorder=4, clip_on=False)
    if name + "_GX" in ns:
        ax.scatter([pos + x / 100 for x in ns[name + "_GX"]], ns[name + "_GY"], s=2.2, c="white",
                   linewidths=0, zorder=5)


def main():
    fig = plt.figure(figsize=(W / 100, H / 100), dpi=100)
    for i, (left, right, top, bottom, y0, tv, tp, bm, mg) in enumerate(BOXES):
        ax = fig.add_axes([left / W, 1 - bottom / H, (right - left) / W, (bottom - top) / H])
        unit = (y0 - tp) / tv
        sp = mg - bm
        ax.set_xlim(1 - (bm - left) / sp, 1 + (right - bm) / sp)
        ax.set_ylim((y0 - bottom) / unit, (y0 - top) / unit)
        for pos, grp, fill in [(1, "BM", BM_FILL), (2, "MG", MG_FILL)]:
            draw_group(ax, pos, f"{PREFIXES[i]}_{grp}", fill)
        ax.set_xticks([1, 2], GROUPS, fontsize=11.7)
        ax.set_yticks(list(YTICKS[i]))
        ax.tick_params(axis="y", labelsize=12.5, length=1.5, width=0.8, pad=1.5)
        ax.tick_params(axis="x", length=2, width=0.8, pad=2.5 if i >= 14 else 3.5)
        for s in ("top", "right"):
            ax.spines[s].set_visible(False)
        for s in ("left", "bottom"):
            ax.spines[s].set_linewidth(1.5)
        fig.text((left - 26) / W, 1 - (top + 0.57 * (bottom - top)) / H, "[expression]", rotation=90,
                 fontsize=12.8, color="#444444", ha="center", va="center")
        fig.text((left + 1) / W, 1 - TITLE_Y[i] / H, TITLES[i], fontsize=12.5, fontweight="bold",
                 fontstyle="italic", color=TITLE_COLOURS[i], ha="left", va="center")
    for letter, y in [("a", 18), ("b", 461), ("c", 916)]:
        fig.text(2 / W, 1 - y / H, letter, fontsize=19, fontweight="bold", ha="left", va="baseline")
    fig.savefig("out.png", dpi=100)
    plt.close(fig)


if __name__ == "__main__":
    main()
